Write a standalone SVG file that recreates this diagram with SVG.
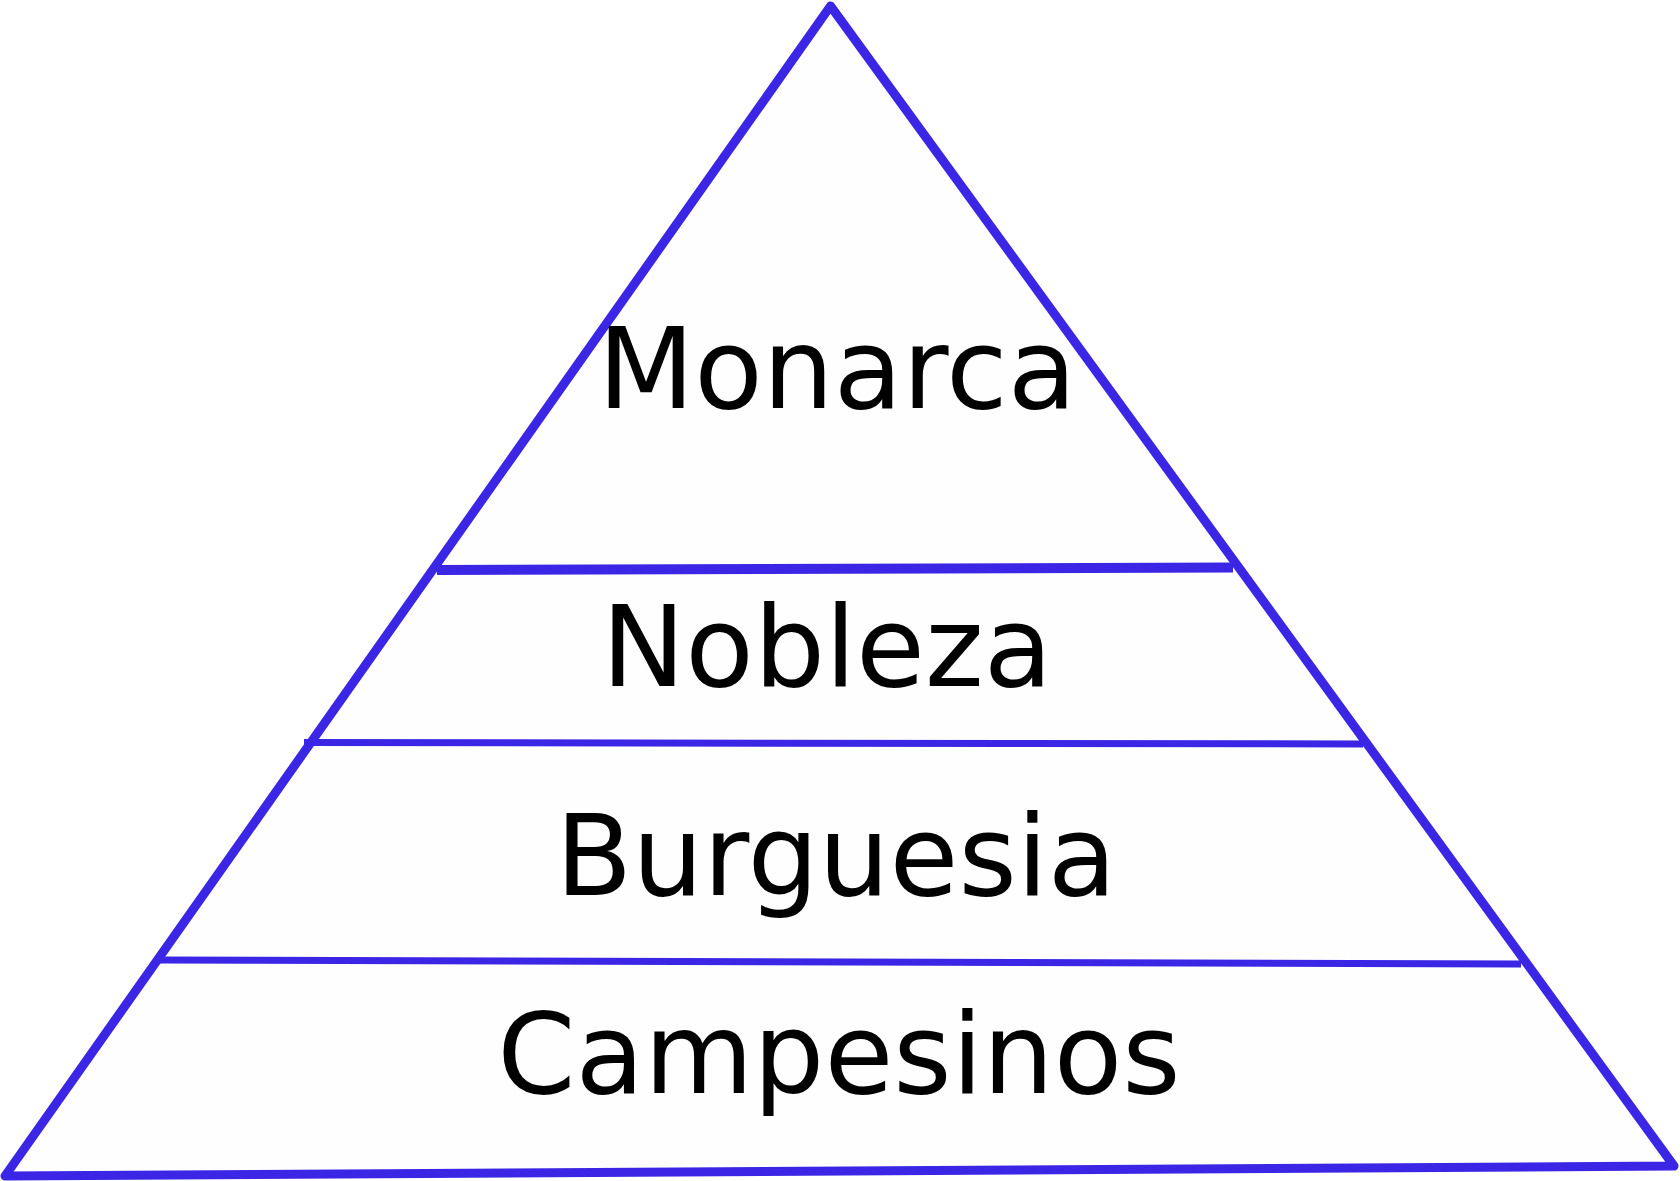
<svg xmlns="http://www.w3.org/2000/svg" width="1680" height="1181" viewBox="0 0 1680 1181">
  <style>
    .edge { fill: none; stroke: #3a26e4; stroke-linecap: butt; }
    .label { font-family: "DejaVu Sans", "Liberation Sans", sans-serif; font-size: 112px; fill: #000000; text-anchor: middle; }
  </style>
  <rect x="0" y="0" width="1680" height="1181" fill="#ffffff"/>
  <g id="pyramid">
    <path d="M 830.5 6 L 1674 1166 L 5 1176 Z" fill="#fefefe" stroke="#3a26e4" stroke-width="9" stroke-linejoin="round"/>
  </g>
  <g id="connectors">
    <line class="edge" x1="437" y1="570" x2="1233" y2="567.5" stroke-width="10"/>
    <line class="edge" x1="304" y1="742.5" x2="1363" y2="744" stroke-width="7"/>
    <line class="edge" x1="158" y1="960" x2="1521" y2="964" stroke-width="7"/>
  </g>
  <g id="monarca">
    <text class="label" x="837" y="408">Monarca</text>
  </g>
  <g id="nobleza">
    <text class="label" x="827" y="686">Nobleza</text>
  </g>
  <g id="burguesia">
    <text class="label" x="836" y="895">Burguesia</text>
  </g>
  <g id="campesinos">
    <text class="label" x="839" y="1093">Campesinos</text>
  </g>
</svg>
